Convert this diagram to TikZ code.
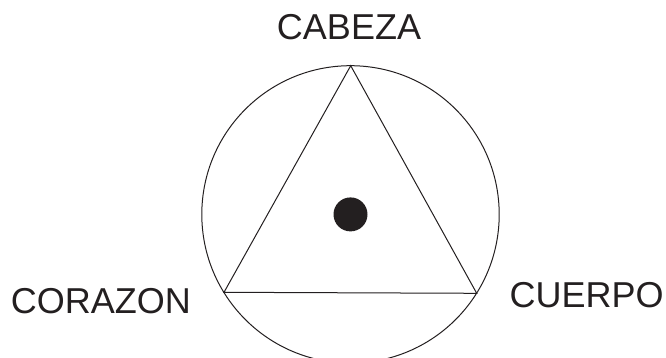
\documentclass[tikz,border=0pt]{standalone}
\usepackage{fontspec}
\setmainfont{Liberation Sans}
\usetikzlibrary{shapes,positioning}
\definecolor{ink}{RGB}{35,31,32}

\begin{document}
\begin{tikzpicture}[x=1pt, y=-1pt, line width=1pt, draw=ink,
		label/.style={anchor=base, font=\fontsize{36}{40}\selectfont, text=ink}]
				\useasboundingbox (0,0) rectangle (666,358);
				\clip (0,0) rectangle (666,358);
				\node[draw, circle, minimum size=297.4pt, inner sep=0pt] (ring) at (350.5,214.4) {};
				\node[circle, fill=ink, minimum size=34pt, inner sep=0pt] (dot) at (ring.center) {};
				\coordinate (top) at (350.7,65.7);
				\coordinate (left) at (224,292.3);
				\coordinate (right) at (476.7,293.3);
				\draw (top) -- (left) -- (right) -- cycle;
				\node[label] (cabeza) at (349,40) {CABEZA};
				\node[label] (corazon) at (100.8,313) {CORAZON};
				\node[label] (cuerpo) at (586.7,307) {CUERPO};
			\end{tikzpicture}
\end{document}
